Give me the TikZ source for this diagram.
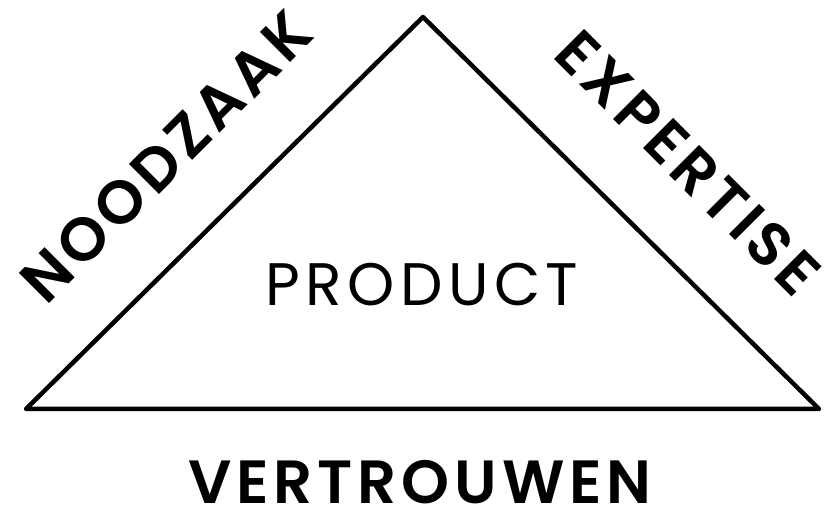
\documentclass[tikz,border=0pt]{standalone}
\usepackage{fontspec}
\setmainfont{Poppins}[BoldFont={Poppins SemiBold}]
\begin{document}
\begin{tikzpicture}[x=1pt,y=-1pt,
  side/.style={font=\fontsize{61}{61}\selectfont\bfseries\addfontfeature{LetterSpace=8},inner sep=0pt},
  centre/.style={font=\fontsize{60}{60}\selectfont\addfontfeature{LetterSpace=9},inner sep=0pt}]
\useasboundingbox (0,0) rectangle (833,510);
\coordinate (top) at (423,17);
\coordinate (bl) at (26,409);
\coordinate (br) at (819,409);
\draw[line width=4.5pt,line join=round] (top) -- (br) -- (bl) -- cycle;
\node[centre] (product) at (422,285) {PRODUCT};
\node[side,rotate=45] (noodzaak) at (166,157) {NOODZAAK};
\node[side,rotate=-45] (expertise) at (688,163) {EXPERTISE};
\node[side] (vertrouwen) at (420,482) {VERTROUWEN};
\end{tikzpicture}
\end{document}
